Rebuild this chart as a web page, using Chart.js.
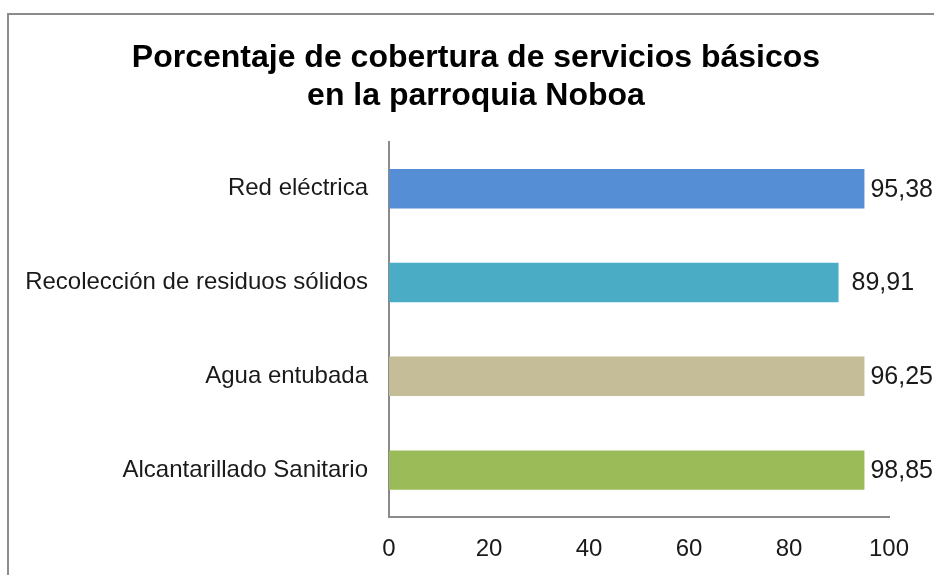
<!DOCTYPE html>
<html lang="es">
<head>
    <meta charset="UTF-8">
    <title>Cobertura de servicios básicos - Noboa</title>
    <script src="https://cdn.jsdelivr.net/npm/chart.js@4"></script>
    <style>
        body {
            margin: 0;
            background: #fff;
            overflow: hidden;
        }
        #frame {
            position: absolute;
            left: 7px;
            top: 13px;
            width: 1200px;
            height: 900px;
            border-top: 2px solid #8c8c8c;
            border-left: 2px solid #8c8c8c;
        }
        #wrap {
            position: absolute;
            left: 0;
            top: 0;
            width: 934px;
            height: 575px;
        }
    </style>
</head>
<body>
    <div id="frame"></div>
    <div id="wrap">
        <canvas id="myChart" width="934" height="575"></canvas>
    </div>

    <script>
        const categories = ['Red eléctrica', 'Recolección de residuos sólidos', 'Agua entubada', 'Alcantarillado Sanitario'];
        const coverage = [95.38, 89.91, 96.25, 98.85];
        const barColors = ['#558ed5', '#4bacc6', '#c4bd97', '#9bbb59'];
        const xTicks = [0, 20, 40, 60, 80, 100];

        const fontFamily = '"Liberation Sans", Arial, sans-serif';

        // value labels with a white box, pushed back inside the canvas when they overflow
        const valueLabels = {
            id: 'valueLabels',
            afterDatasetsDraw(chart) {
                const ctx = chart.ctx;
                const meta = chart.getDatasetMeta(0);
                ctx.save();
                ctx.font = '25px ' + fontFamily;
                ctx.textBaseline = 'middle';
                ctx.textAlign = 'left';
                meta.data.forEach((bar, i) => {
                    const txt = coverage[i].toFixed(2).replace('.', ',');
                    const w = ctx.measureText(txt).width;
                    const x = Math.min(bar.x + 13, chart.width - w - 1);
                    const h = bar.height + 2;
                    ctx.fillStyle = '#fff';
                    ctx.fillRect(x - 6, bar.y - h / 2, w + 8, h);
                    ctx.fillStyle = '#1a1a1a';
                    ctx.fillText(txt, x, bar.y + 1);
                });
                ctx.restore();
            }
        };

        const ctx = document.getElementById('myChart').getContext('2d');

        new Chart(ctx, {
            type: 'bar',
            data: {
                labels: categories,
                datasets: [{
                    data: coverage,
                    backgroundColor: barColors,
                    barPercentage: 0.42,
                    categoryPercentage: 1
                }]
            },
            plugins: [valueLabels],
            options: {
                indexAxis: 'y',
                responsive: false,
                animation: false,
                layout: { padding: { left: 18, right: 0, top: 39, bottom: 0 } },
                scales: {
                    x: {
                        min: 0,
                        max: 100,
                        afterBuildTicks: (scale) => { scale.ticks = xTicks.map(v => ({ value: v })); },
                        afterFit: (scale) => {
                            scale.height = 58;
                            scale.paddingLeft = 0;
                            scale.paddingRight = 0;
                        },
                        grid: { display: false, drawTicks: false },
                        border: { display: true, color: '#8a8a8a', width: 2 },
                        ticks: {
                            padding: 18,
                            color: '#1a1a1a',
                            font: { size: 24, family: fontFamily }
                        }
                    },
                    y: {
                        afterFit: (scale) => { scale.width = 371; },
                        grid: { display: false, drawTicks: false },
                        border: { display: true, color: '#8a8a8a', width: 2 },
                        ticks: {
                            padding: 21,
                            color: '#1a1a1a',
                            font: { size: 24, family: fontFamily }
                        }
                    },
                    // empty right-hand box that keeps room for the value labels
                    gap: {
                        type: 'linear',
                        position: 'right',
                        afterFit: (scale) => { scale.width = 45; },
                        grid: { display: false, drawTicks: false },
                        border: { display: false },
                        ticks: { display: false }
                    }
                },
                plugins: {
                    legend: { display: false },
                    tooltip: { enabled: false },
                    title: {
                        display: true,
                        text: ['Porcentaje de cobertura de servicios básicos', 'en la parroquia Noboa'],
                        color: '#000',
                        font: { size: 32, weight: 'bold', family: fontFamily, lineHeight: 1.2 },
                        padding: { top: 0, bottom: 26 }
                    }
                }
            }
        });
    </script>
</body>
</html>
